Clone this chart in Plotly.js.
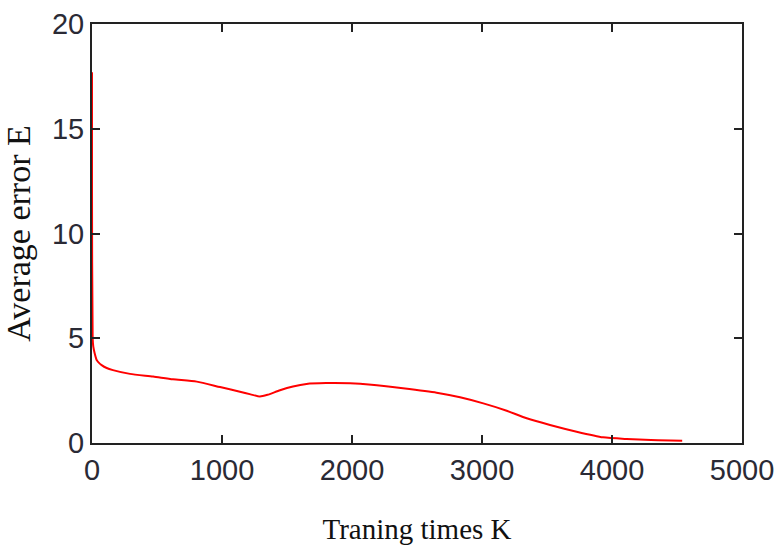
<!DOCTYPE html>
<html>
<head>
<meta charset="utf-8">
<script src="https://cdn.plot.ly/plotly-3.0.1.min.js"></script>
<style>html,body{margin:0;padding:0;background:#fff;}#chart{width:778px;height:551px;}</style>
</head>
<body>
<div id="chart"></div>
<script>
const trainingTimes = [0, 0, 5, 10, 20, 36, 50, 74, 113, 161, 292, 470, 623, 806, 985, 1138, 1220, 1292, 1350, 1446, 1546, 1650, 1800, 1985, 2150, 2392, 2651, 2831, 3010, 3190, 3344, 3523, 3728, 3931, 4113, 4300, 4540];
const averageError = [17.7, 12.0, 5.0, 4.6, 4.3, 3.96, 3.85, 3.72, 3.58, 3.48, 3.3, 3.17, 3.04, 2.93, 2.67, 2.45, 2.32, 2.22, 2.3, 2.52, 2.7, 2.82, 2.86, 2.85, 2.78, 2.61, 2.40, 2.18, 1.89, 1.54, 1.18, 0.86, 0.54, 0.27, 0.19, 0.14, 0.11];
const xTicks = [0, 1000, 2000, 3000, 4000, 5000];
const yTicks = [0, 5, 10, 15, 20];

const axisCommon = {
  showgrid: false, zeroline: false, showline: true, mirror: 'ticks',
  linecolor: '#222', linewidth: 2, ticks: 'inside', ticklen: 8, tickwidth: 2, tickcolor: '#222',
  tickfont: {family: 'Liberation Sans, Arial, sans-serif', size: 29, color: '#2a2a35'}
};

Plotly.newPlot('chart', [{
  x: trainingTimes, y: averageError, mode: 'lines', type: 'scatter',
  line: {color: '#ff0000', width: 2, shape: 'spline', smoothing: 0.6}, hoverinfo: 'skip'
}], {
  width: 778, height: 551,
  margin: {l: 92, r: 36, t: 24, b: 108},
  paper_bgcolor: '#fff', plot_bgcolor: '#fff', showlegend: false,
  xaxis: Object.assign({}, axisCommon, {
    range: [0, 5000], tickvals: xTicks, ticktext: xTicks.map(String),
    title: {text: 'Traning times K', font: {family: 'Liberation Serif, Times New Roman, serif', size: 29, color: '#111'}, standoff: 34}
  }),
  yaxis: Object.assign({}, axisCommon, {
    range: [0, 20], tickvals: yTicks, ticktext: yTicks.map(String),
    title: {text: 'Average error E', font: {family: 'Liberation Serif, Times New Roman, serif', size: 34, color: '#111'}, standoff: 18}
  })
}, {staticPlot: true});
</script>
</body>
</html>
